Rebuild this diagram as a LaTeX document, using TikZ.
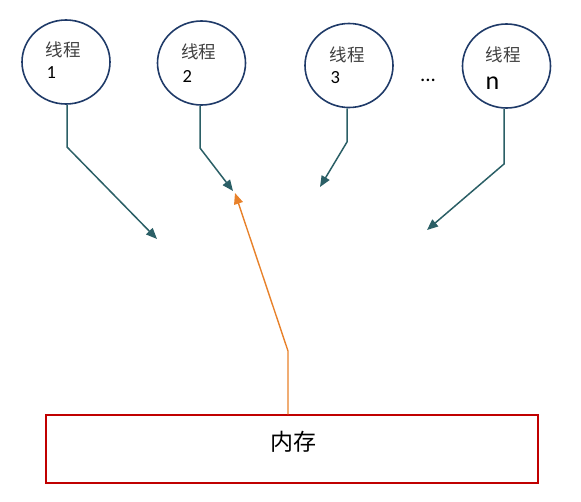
\documentclass[tikz,border=0pt]{standalone}
\usepackage{fontspec}
\setmainfont{Carlito}
\newfontfamily\cjk{Noto Sans CJK SC}
\usetikzlibrary{shapes.geometric,arrows.meta}
\definecolor{navy}{HTML}{1F3A68}
\definecolor{teal2}{HTML}{2B5F66}
\definecolor{orng}{HTML}{E8812A}
\definecolor{dred}{HTML}{C00000}
\definecolor{txtg}{HTML}{404040}
\tikzset{
  thread/.style={ellipse,draw=navy,line width=1.6pt,minimum width=88pt,minimum height=84pt,inner sep=0pt},
  lbl/.style={anchor=west,inner sep=0pt,text=txtg,font=\cjk\fontsize{17.5}{17.5}\selectfont},
  num/.style={anchor=west,inner sep=0pt,text=black,font=\fontsize{18.5}{18.5}\selectfont},
  thr/.style={draw=teal2,line width=1.5pt,-{Triangle[length=11pt,width=9pt]}},
  memarr/.style={draw=orng,line width=1.4pt,-{Triangle[length=11pt,width=9pt]}},
  membox/.style={draw=dred,line width=1.5pt,minimum width=492pt,minimum height=68pt,inner sep=0pt},
  memtext/.style={inner sep=0pt,font=\cjk\fontsize{23}{23}\selectfont}
}
\begin{document}
\begin{tikzpicture}[x=1pt,y=-1pt]
\useasboundingbox (0,0) rectangle (581,501);
\node[thread] (t1) at (66,62) {};
\node[thread] (t2) at (201.5,63) {};
\node[thread] (t3) at (349,65.5) {};
\node[thread] (tn) at (506.5,66) {};
\node[lbl] (l1) at (45.5,50) {线程};
\node[num] (n1) at (46.5,73) {1};
\node[lbl] (l2) at (181,52) {线程};
\node[num] (n2) at (182.5,76) {2};
\node[lbl] (l3) at (329.5,55) {线程};
\node[num] (n3) at (330.5,78) {3};
\node[lbl] (ln) at (485.5,55) {线程};
\node[num] (nn) at (485.5,83.5) {\fontsize{26}{26}\selectfont n};
\node[inner sep=0pt] (dots) at (428,80) {\fontsize{21}{21}\selectfont ...};
\node[membox] (mem) at (292,449) {};
\node[memtext] (memt) at (293,442) {内存};
\coordinate (e1) at (157,239);
\coordinate (e2) at (233,191);
\coordinate (e3) at (320,187);
\coordinate (en) at (427,230);
\coordinate (ox) at (288,0);
\draw[thr] (t1.south -| 67,0) -- (67,147) -- (e1);
\draw[thr] (t2.south -| 200,0) -- (200,148) -- (e2);
\draw[thr] (t3.south -| 347,0) -- (347,142) -- (e3);
\draw[thr] (tn.south -| 504,0) -- (504,164) -- (en);
\draw[memarr] (mem.north -| ox) -- (288,351) -- (235,193);
\end{tikzpicture}
\end{document}
